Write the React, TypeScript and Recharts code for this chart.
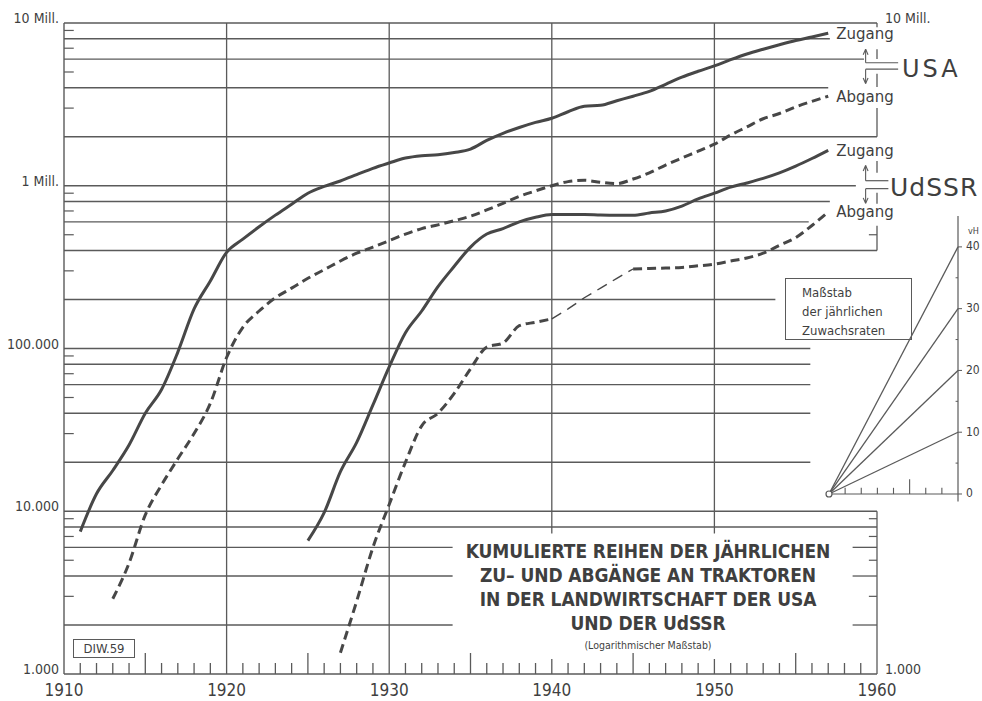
import React from "react";
import {
  ComposedChart,
  LineChart,
  Line,
  XAxis,
  YAxis,
  ReferenceLine,
  ReferenceDot,
} from "recharts";

const INK = "#474747";
const GRID = "#5a5a5a";
const TEXT = "#3f3f3f";
const COND = '"DejaVu Sans Condensed", "DejaVu Sans", sans-serif';
const SANS = '"DejaVu Sans", sans-serif';

const Y_DOMAIN: [number, number] = [1000, 10000000];
const X_DOMAIN: [number, number] = [1910, 1960];

// kumulierte Zugänge / Abgänge an Traktoren (Stück)
const usaZugang: [number, number][] = [
  [1911, 7500], [1912, 12800], [1913, 17800], [1914, 25500], [1915, 40000],
  [1916, 56000], [1917, 95000], [1918, 175000], [1919, 260000], [1920, 390000],
  [1921, 470000], [1922, 560000], [1923, 660000], [1924, 770000], [1925, 900000],
  [1926, 990000], [1927, 1070000], [1928, 1170000], [1929, 1280000], [1930, 1380000],
  [1931, 1480000], [1932, 1530000], [1933, 1550000], [1934, 1600000], [1935, 1680000],
  [1936, 1900000], [1937, 2100000], [1938, 2280000], [1939, 2450000], [1940, 2600000],
  [1941, 2850000], [1942, 3080000], [1943, 3120000], [1944, 3330000], [1945, 3550000],
  [1946, 3800000], [1947, 4200000], [1948, 4650000], [1949, 5050000], [1950, 5450000],
  [1951, 5950000], [1952, 6450000], [1953, 6900000], [1954, 7350000], [1955, 7800000],
  [1956, 8200000], [1957, 8650000],
];

const usaAbgang: [number, number][] = [
  [1913, 2900], [1914, 4800], [1915, 9500], [1916, 14500], [1917, 21000],
  [1918, 30000], [1919, 46000], [1920, 88000], [1921, 135000], [1922, 170000],
  [1923, 205000], [1924, 235000], [1925, 270000], [1926, 305000], [1927, 345000],
  [1928, 385000], [1929, 420000], [1930, 460000], [1931, 505000], [1932, 545000],
  [1933, 575000], [1934, 610000], [1935, 650000], [1936, 710000], [1937, 780000],
  [1938, 860000], [1939, 930000], [1940, 1000000], [1941, 1060000], [1942, 1080000],
  [1943, 1050000], [1944, 1030000], [1945, 1100000], [1946, 1200000], [1947, 1340000],
  [1948, 1480000], [1949, 1630000], [1950, 1800000], [1951, 2050000], [1952, 2300000],
  [1953, 2580000], [1954, 2780000], [1955, 3050000], [1956, 3300000], [1957, 3550000],
];

const udssrZugang: [number, number][] = [
  [1925, 6600], [1926, 9800], [1927, 17500], [1928, 26500], [1929, 45000],
  [1930, 77000], [1931, 125000], [1932, 170000], [1933, 240000], [1934, 320000],
  [1935, 420000], [1936, 505000], [1937, 545000], [1938, 600000], [1939, 640000],
  [1940, 665000], [1941, 665000], [1942, 665000], [1943, 660000], [1944, 658000],
  [1945, 658000], [1946, 680000], [1947, 700000], [1948, 750000], [1949, 830000],
  [1950, 900000], [1951, 980000], [1952, 1040000], [1953, 1110000], [1954, 1200000],
  [1955, 1320000], [1956, 1470000], [1957, 1650000],
];

const udssrAbgang: [number, number][] = [
  [1927, 1350], [1928, 2800], [1929, 6000], [1930, 11000], [1931, 20000],
  [1932, 33500], [1933, 40000], [1934, 53000], [1935, 75000], [1936, 102000],
  [1937, 108000], [1938, 138000], [1939, 145000], [1940, 152000], [1941, 175000],
  [1942, 205000], [1943, 235000], [1944, 270000], [1945, 308000], [1946, 310000],
  [1947, 312000], [1948, 315000], [1949, 322000], [1950, 330000], [1951, 345000],
  [1952, 360000], [1953, 385000], [1954, 430000], [1955, 480000], [1956, 570000],
  [1957, 690000],
];

// Kriegsjahre: dünn gestrichelt
const THIN_FROM = 1940;
const THIN_TO = 1945;

const yearTicks = Array.from({ length: 51 }, (_, i) => 1910 + i);
const leftTicks = [1000, 10000, 100000, 1000000, 10000000];
const rightTicks = [1000, 10000000];
const fullDecades = [1920, 1930];
const shortDecades = [1940, 1950];

// Maßstab der jährlichen Zuwachsraten (vH), 8 Jahre Breite
const insetRates = [10, 20, 30, 40];
const insetSpan = 8;
const insetTicks = [0, 10, 20, 30, 40];

// Gitterlinien: Wert, rechtes Ende (Jahr)
const hGrid: [number, number][] = [
  [10000000, 1960], [8000000, 1957.1], [6000000, 1959.2], [4000000, 1957],
  [2000000, 1960], [1000000, 1958.7], [800000, 1957.1], [600000, 1955.8],
  [400000, 1960], [200000, 1953.75], [100000, 1955.9], [80000, 1955.9],
  [60000, 1955.9], [40000, 1955.9], [20000, 1955.9], [10000, 1960],
  [8000, 1960], [6000, 1933.9], [4000, 1933.9], [2000, 1933.9],
];
const rightStubs = [6000, 4000, 2000];
const leftMinor = [3, 5, 7, 9].flatMap((m) => [1e3, 1e4, 1e5, 1e6].map((d) => m * d));
const rightMinor = [3000, 5000, 7000, 9000, 500000];
const rightAxisParts: [number, number][] = [
  [9400000, 10000000], [6000000, 6900000], [4050000, 4870000], [2000000, 3000000],
  [1200000, 1420000], [776000, 906000], [400000, 568000], [1000, 10000],
];

type Row = { year: number; [k: string]: number | undefined };

function buildRows(): Row[] {
  const rows: Row[] = [];
  for (let y = 1911; y <= 1957; y += 1) rows.push({ year: y });
  const put = (key: string, series: [number, number][]) =>
    series.forEach(([yr, v]) => {
      rows[yr - 1911][key] = v;
    });
  put("usaZu", usaZugang);
  put("usaAb", usaAbgang);
  put("suZu", udssrZugang);
  udssrAbgang.forEach(([yr, v]) => {
    const row = rows[yr - 1911];
    if (yr <= THIN_FROM || yr >= THIN_TO) row.suAb = v;
    if (yr >= THIN_FROM && yr <= THIN_TO) row.suAbThin = v;
  });
  return rows;
}

const rows = buildRows();

function fmtValue(v: number): string {
  if (v === 10000000) return "10 Mill.";
  if (v === 1000000) return "1 Mill.";
  return String(v).replace(/\B(?=(\d{3})+(?!\d))/g, ".");
}

function LeftTick(props: any) {
  const { x, y, payload } = props;
  return (
    <text x={x} y={y - 4} textAnchor="end" dominantBaseline="middle" fill={TEXT} fontSize={14} fontFamily={COND}>
      {fmtValue(payload.value)}
    </text>
  );
}

function RightTick(props: any) {
  const { x, y, payload } = props;
  return (
    <text x={x} y={y - 4} textAnchor="start" dominantBaseline="middle" fill={TEXT} fontSize={14} fontFamily={COND}>
      {fmtValue(payload.value)}
    </text>
  );
}

function YearTick(props: any) {
  const { x, y, payload } = props;
  const yr = payload.value as number;
  let len = 11;
  if (yr === 1910 || yr === 1960 || fullDecades.includes(yr)) len = 0;
  else if (yr % 10 === 0) len = 15;
  else if (yr % 5 === 0) len = 21;
  return (
    <g>
      {len > 0 && <line x1={x} x2={x} y1={y} y2={y - len} stroke={GRID} strokeWidth={1.3} />}
      {yr % 10 === 0 && (
        <text x={x} y={y + 22} textAnchor="middle" fill={TEXT} fontSize={17} fontFamily={COND}>
          {yr}
        </text>
      )}
    </g>
  );
}

function seg(key: string, x1: number, y1: number, x2: number, y2: number, width = 1.3) {
  return (
    <ReferenceLine
      key={key}
      segment={[{ x: x1, y: y1 }, { x: x2, y: y2 }]}
      stroke={GRID}
      strokeWidth={width}
      ifOverflow="visible"
    />
  );
}

// Pfeil mit Spitze bei toV
function arrow(key: string, x: number, fromV: number, toV: number) {
  const up = toV > fromV;
  const base = up ? toV / 1.08 : toV * 1.08;
  return [
    seg(`${key}-s`, x, fromV, x, toV, 1.1),
    seg(`${key}-l`, x - 0.15, base, x, toV, 1.1),
    seg(`${key}-r`, x + 0.15, base, x, toV, 1.1),
  ];
}

function bracket(key: string, topV: number, botV: number, upTo: number, downTo: number, endX: number) {
  const stemX = 1959.3;
  return [
    seg(`${key}-t`, stemX, topV, endX, topV, 1.2),
    seg(`${key}-b`, stemX, botV, endX, botV, 1.2),
    ...arrow(`${key}-u`, stemX, topV, upTo),
    ...arrow(`${key}-d`, stemX, botV, downTo),
  ];
}

const lastOf = (s: [number, number][]) => s[s.length - 1];
const endLabels: [string, [number, number]][] = [
  ["Zugang", lastOf(usaZugang)],
  ["Abgang", lastOf(usaAbgang)],
  ["Zugang", lastOf(udssrZugang)],
  ["Abgang", lastOf(udssrAbgang)],
];

function MainChart() {
  return (
    <ComposedChart width={982} height={701} data={rows} margin={{ top: 23, right: 0, bottom: 0, left: 0 }}>
      <XAxis
        dataKey="year"
        type="number"
        domain={X_DOMAIN}
        allowDataOverflow
        ticks={yearTicks}
        interval={0}
        tickSize={0}
        tickMargin={0}
        tickLine={false}
        height={27}
        axisLine={{ stroke: GRID, strokeWidth: 1.4 }}
        tick={(p: any) => <YearTick {...p} />}
      />
      <YAxis
        scale="log"
        type="number"
        domain={Y_DOMAIN}
        allowDataOverflow
        ticks={leftTicks}
        interval={0}
        width={64}
        tickSize={0}
        tickMargin={5}
        tickLine={false}
        axisLine={{ stroke: GRID, strokeWidth: 1.4 }}
        tick={(p: any) => <LeftTick {...p} />}
      />
      <YAxis
        yAxisId="r"
        orientation="right"
        scale="log"
        type="number"
        domain={Y_DOMAIN}
        allowDataOverflow
        ticks={rightTicks}
        interval={0}
        width={105}
        tickSize={0}
        tickMargin={8}
        tickLine={false}
        axisLine={false}
        tick={(p: any) => <RightTick {...p} />}
      />

      {hGrid.map(([v, end]) => seg(`h${v}`, 1910, v, end, v, 1.3))}
      {rightStubs.map((v) => seg(`st${v}`, 1958.5, v, 1960, v, 1.3))}
      {leftMinor.map((v) => seg(`lm${v}`, 1910, v, 1910.6, v, 1.2))}
      {rightMinor.map((v) => seg(`rm${v}`, 1959.5, v, 1960, v, 1.2))}
      {rightAxisParts.map(([a, b]) => seg(`ra${a}`, 1960, a, 1960, b, 1.3))}
      {fullDecades.map((yr) => seg(`v${yr}`, yr, 1000, yr, 10000000, 1.3))}
      {shortDecades.map((yr) => seg(`v${yr}`, yr, 7300, yr, 10000000, 1.3))}

      {bracket("usa", 5700000, 5200000, 6900000, 4250000, 1961.3)}
      {bracket("su", 1074000, 960000, 1330000, 780000, 1960.7)}

      <Line dataKey="usaZu" type="monotone" stroke={INK} strokeWidth={3} dot={false} isAnimationActive={false} />
      <Line dataKey="usaAb" type="monotone" stroke={INK} strokeWidth={3} strokeDasharray="9 5" dot={false} isAnimationActive={false} />
      <Line dataKey="suZu" type="monotone" stroke={INK} strokeWidth={3} dot={false} isAnimationActive={false} />
      <Line dataKey="suAb" type="monotone" stroke={INK} strokeWidth={3} strokeDasharray="9 5" dot={false} isAnimationActive={false} />
      <Line dataKey="suAbThin" type="linear" stroke={INK} strokeWidth={1.4} strokeDasharray="11 7" dot={false} isAnimationActive={false} />

      {endLabels.map(([text, [yr, v]], i) => (
        <ReferenceDot
          key={`lab${i}`}
          x={yr}
          y={v}
          r={0}
          fill="none"
          stroke="none"
          label={{ value: text, position: "right", offset: 8, fill: TEXT, fontSize: 15, fontFamily: SANS }}
        />
      ))}
    </ComposedChart>
  );
}

const insetRows = [
  Object.fromEntries([["t", 0], ...insetRates.map((r) => [`r${r}`, 0])]),
  Object.fromEntries([["t", insetSpan], ...insetRates.map((r) => [`r${r}`, r])]),
];

function InsetTick(props: any) {
  const { x, y, payload } = props;
  return (
    <text x={x} y={y} textAnchor="start" dominantBaseline="middle" fill={TEXT} fontSize={12} fontFamily={COND}>
      {payload.value}
    </text>
  );
}

function InsetChart() {
  const yearMarks = Array.from({ length: insetSpan - 1 }, (_, i) => i + 1);
  return (
    <LineChart width={182} height={320} data={insetRows} margin={{ top: 16, right: 0, bottom: 18.6, left: 29 }}>
      <XAxis dataKey="t" type="number" domain={[0, insetSpan]} hide />
      <YAxis
        orientation="right"
        type="number"
        domain={[-1.2, 45]}
        allowDataOverflow
        ticks={insetTicks}
        interval={0}
        width={24}
        tickSize={4}
        tickMargin={4}
        tickLine={{ stroke: GRID }}
        axisLine={{ stroke: GRID, strokeWidth: 1.2 }}
        tick={(p: any) => <InsetTick {...p} />}
      />
      <ReferenceLine y={0} stroke={GRID} strokeWidth={1.2} />
      {yearMarks.map((t) => (
        <ReferenceLine key={`it${t}`} segment={[{ x: t, y: 0 }, { x: t, y: t === 5 ? 2.4 : 1 }]} stroke={GRID} strokeWidth={1.1} />
      ))}
      {[5, 15, 25, 35].map((v) => (
        <ReferenceLine key={`im${v}`} segment={[{ x: insetSpan - 0.15, y: v }, { x: insetSpan, y: v }]} stroke={GRID} strokeWidth={1} ifOverflow="visible" />
      ))}
      {insetRates.map((r) => (
        <Line key={r} dataKey={`r${r}`} type="linear" stroke={GRID} strokeWidth={1.3} dot={false} isAnimationActive={false} />
      ))}
      <ReferenceDot x={0} y={0} r={3} fill="#fff" stroke={GRID} strokeWidth={1.2} />
    </LineChart>
  );
}

const abs = (extra: React.CSSProperties): React.CSSProperties => ({
  position: "absolute",
  pointerEvents: "none",
  color: TEXT,
  whiteSpace: "nowrap",
  ...extra,
});

export default function App() {
  return (
    <div style={{ position: "fixed", left: 0, top: 0, width: 982, height: 701, background: "#fff", overflow: "hidden" }}>
      <MainChart />
      <div style={abs({ left: 800, top: 200 })}>
        <InsetChart />
      </div>

      <div style={abs({ left: 902, top: 57, fontFamily: SANS, fontSize: 24, lineHeight: "24px", letterSpacing: 3 })}>USA</div>
      <div style={abs({ left: 890, top: 175, fontFamily: SANS, fontSize: 25, lineHeight: "25px", letterSpacing: 1 })}>UdSSR</div>

      <div
        style={abs({
          left: 785,
          top: 278,
          width: 127,
          height: 62,
          boxSizing: "border-box",
          border: `1.3px solid ${GRID}`,
          padding: "4px 0 0 16px",
          fontFamily: COND,
          fontSize: 13,
          lineHeight: "19px",
        })}
      >
        Maßstab
        <br />
        der jährlichen
        <br />
        Zuwachsraten
      </div>
      <div style={abs({ left: 968, top: 226, fontFamily: COND, fontSize: 9 })}>vH</div>

      <div
        style={abs({
          left: 448,
          top: 539,
          width: 400,
          textAlign: "center",
          fontFamily: COND,
          fontWeight: 700,
          fontSize: 19,
          lineHeight: "24px",
          letterSpacing: -0.1,
        })}
      >
        KUMULIERTE REIHEN DER JÄHRLICHEN
        <br />
        ZU– UND ABGÄNGE AN TRAKTOREN
        <br />
        IN DER LANDWIRTSCHAFT DER USA
        <br />
        UND DER UdSSR
      </div>
      <div style={abs({ left: 448, top: 639, width: 400, textAlign: "center", fontFamily: COND, fontSize: 10.5 })}>
        (Logarithmischer Maßstab)
      </div>

      <div
        style={abs({
          left: 73,
          top: 639,
          width: 62,
          height: 19,
          boxSizing: "border-box",
          border: `1.2px solid ${GRID}`,
          fontFamily: COND,
          fontSize: 13,
          lineHeight: "17px",
          textAlign: "center",
        })}
      >
        DIW.59
      </div>
    </div>
  );
}
